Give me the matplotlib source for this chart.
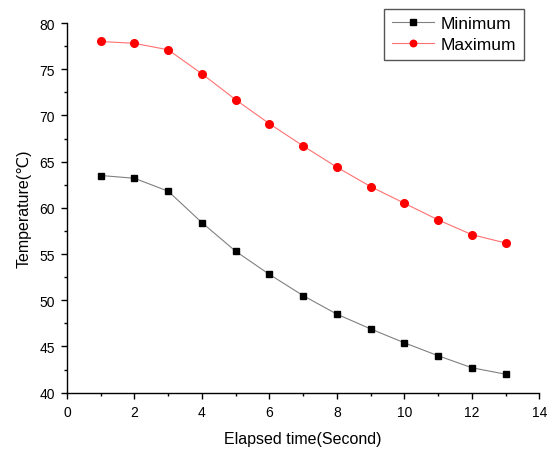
import matplotlib
matplotlib.use("Agg")
import matplotlib.pyplot as plt
from matplotlib.ticker import MultipleLocator

plt.rcParams['font.family'] = ['Liberation Sans', 'DejaVu Sans']

time_s = [1, 2, 3, 4, 5, 6, 7, 8, 9, 10, 11, 12, 13]
minimum = [63.5, 63.2, 61.8, 58.4, 55.3, 52.8, 50.5, 48.5, 46.9, 45.4, 44.0, 42.7, 42.0]
maximum = [78.0, 77.8, 77.1, 74.5, 71.7, 69.1, 66.7, 64.4, 62.3, 60.5, 58.7, 57.1, 56.2]

fig = plt.figure(figsize=(5.52, 4.52), dpi=100)
ax = fig.add_axes([67/552, 1-393.7/452, (539.3-67)/552, (393.7-24)/452])

ax.plot(time_s, minimum, color='#808080', lw=0.8, marker='s', ms=5,
        mfc='black', mec='black', label='Minimum')
ax.plot(time_s, maximum, color='#ff7070', lw=0.8, marker='o', ms=5.5,
        mfc='red', mec='red', label='Maximum')

ax.set_xlim(0, 14)
ax.set_ylim(40, 80)
ax.xaxis.set_major_locator(MultipleLocator(2))
ax.xaxis.set_minor_locator(MultipleLocator(1))
ax.yaxis.set_major_locator(MultipleLocator(5))
ax.yaxis.set_minor_locator(MultipleLocator(2.5))
ax.spines['top'].set_visible(False)
ax.spines['right'].set_visible(False)
for s in ('left', 'bottom'):
    ax.spines[s].set_linewidth(1.0)
ax.tick_params(which='major', direction='out', length=4.5, width=1.0, labelsize=10,
               colors='black', pad=4)
ax.tick_params(which='minor', direction='out', length=2.5, width=1.0)

ax.set_xlabel('Elapsed time(Second)', fontsize=11.5, labelpad=9)
ax.set_ylabel('Temperature(\u2103)', fontsize=11.5, labelpad=6)

leg = ax.legend(loc='upper right', bbox_to_anchor=(524/552, 1-9.5/452),
                bbox_transform=fig.transFigure, borderaxespad=0,
                fancybox=False, edgecolor='#555555', fontsize=12.5,
                handlelength=2.4, handletextpad=0.4, borderpad=0.45,
                labelspacing=0.3, framealpha=1, markerscale=0.85)
leg.get_frame().set_linewidth(1.0)

fig.savefig('out.png', dpi=100)
